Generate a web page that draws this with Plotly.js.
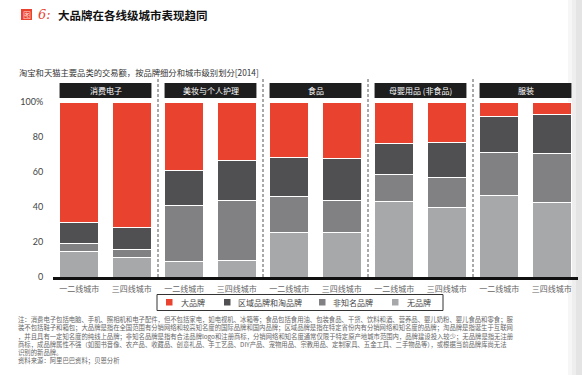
<!DOCTYPE html>
<html>
<head>
<meta charset="utf-8">
<script src="https://cdn.plot.ly/plotly-3.0.1.min.js"></script>
<style>html,body{margin:0;padding:0;background:#fff;}#chart{width:582px;height:375px;}</style>
</head>
<body>
<div id="chart"></div>
<script>
// ---- data ----
const categories = ['消费电子', '美妆与个人护理', '食品', '母婴用品 (非食品)', '服装'];
const cityTiers = ['一二线城市', '三四线城市'];
const seriesNames = ['大品牌', '区域品牌和淘品牌', '非知名品牌', '无品牌'];
const bigBrand  = [68.8, 71.8, 39.4, 33.3, 31.6, 32.2, 23.6, 22.9, 8.4, 6.9];
const regional  = [12.0, 12.4, 19.5, 22.7, 22.5, 23.8, 17.7, 20.3, 20.7, 22.8];
const unknownBr = [4.7, 4.6, 32.3, 34.7, 20.4, 18.7, 15.7, 17.2, 24.2, 27.6];
const noBrand   = [14.5, 11.2, 8.8, 9.3, 25.5, 25.3, 43.0, 39.6, 46.7, 42.7];
const yTickVals = [0, 20, 40, 60, 80, 100];
const yTickText = ['0', '20', '40', '60', '80', '100%'];
const colors = ['#E9422E', '#505053', '#818184', '#A7A8AA'];

const titleText = '大品牌在各线级城市表现趋同';
const subtitleText = '淘宝和天猫主要品类的交易额，按品牌细分和城市级别划分[2014]';
const notesLines = [
  '注：消费电子包括电脑、手机、照相机和电子配件，但不包括家电，如电视机、冰箱等；食品包括食用油、包装食品、干货、饮料和酒、营养品、婴儿奶粉、婴儿食品和零食；服',
  '装不包括鞋子和箱包；大品牌是指在全国范围有分销网络和较高知名度的国际品牌和国内品牌；区域品牌是指在特定省份内有分销网络和知名度的品牌；淘品牌是指诞生于互联网',
  '，并且具有一定知名度的纯线上品牌；非知名品牌是指有合法品牌logo和注册商标，分销网络和知名度通常仅限于特定原产地城市范围内，品牌建设投入较少；无品牌是指无注册',
  '商标，成品牌属性不强（如图书音像、农产品、收藏品、创意礼品、手工艺品、DIY产品、宠物用品、宗教用品、定制家具、五金工具、二手物品等），或根据当前品牌库尚无法',
  '识别的新品牌。'
];
const sourceText = '资料来源：阿里巴巴资料；贝恩分析';

// ---- layout helpers ----
const W = 582, H = 375;
const M = {l: 53, r: 4, t: 102, b: 98};
const PW = W - M.l - M.r, PH = H - M.t - M.b;
const px = x => (x - M.l) / PW;
const py = y => (H - M.b - y) / PH;
const CJK = '"Noto Sans CJK SC", "Noto Sans", sans-serif';

const nBars = categories.length * cityTiers.length;
const xIdx = Array.from({length: nBars}, (_, i) => i);
const xLabels = xIdx.map(i => cityTiers[i % cityTiers.length]);

const stackBottomFirst = [noBrand, unknownBr, regional, bigBrand];
const namesBottomFirst = [seriesNames[3], seriesNames[2], seriesNames[1], seriesNames[0]];
const colorsBottomFirst = [colors[3], colors[2], colors[1], colors[0]];

const traces = stackBottomFirst.map((vals, k) => ({
  type: 'bar', x: xIdx, y: vals, name: namesBottomFirst[k], width: 0.75,
  marker: {color: colorsBottomFirst[k], line: {color: '#ffffff', width: 1}},
  hoverinfo: 'skip'
}));

const shapes = [];
const annotations = [];

// right-edge light gray strip
[[568, 572, '#f6f6f6'], [572, 576, '#eeeeee'], [576, 582, '#e4e4e4']].forEach(([a, b, c]) => {
  shapes.push({type: 'rect', xref: 'paper', yref: 'paper', x0: px(a), x1: px(b), y0: py(H), y1: py(0),
    fillcolor: c, line: {width: 0}, layer: 'below'});
});

// group header boxes and dashed separators
categories.forEach((cat, g) => {
  const a = g * 2 - 0.375, b = g * 2 + 1.375;
  shapes.push({type: 'rect', xref: 'x', yref: 'paper', x0: a, x1: b, y0: py(98), y1: py(83),
    fillcolor: '#1e1e1e', line: {width: 0}});
  annotations.push({xref: 'x', yref: 'paper', x: g * 2 + 0.5, y: py(90.5), text: cat, showarrow: false,
    font: {family: CJK, size: 8, color: '#ffffff'}, xanchor: 'center', yanchor: 'middle'});
  if (g < categories.length - 1) {
    shapes.push({type: 'line', xref: 'x', yref: 'paper', x0: g * 2 + 1.5, x1: g * 2 + 1.5, y0: 0, y1: py(79),
      line: {color: '#555555', width: 1, dash: '3px,2px'}});
  }
});

// custom legend
shapes.push({type: 'rect', xref: 'paper', yref: 'paper', x0: px(157), x1: px(443), y0: py(310.5), y1: py(294.5),
  fillcolor: 'rgba(0,0,0,0)', line: {color: '#333333', width: 1}});
const legX = [[166, 179], [224, 236], [319, 331], [392, 405]];
seriesNames.forEach((nm, k) => {
  const [sx, tx] = legX[k];
  shapes.push({type: 'rect', xref: 'paper', yref: 'paper', x0: px(sx), x1: px(sx + 6.5), y0: py(305.5), y1: py(299),
    fillcolor: colors[k], line: {width: 0}});
  annotations.push({xref: 'paper', yref: 'paper', x: px(tx), y: py(302.5), text: nm, showarrow: false,
    font: {family: CJK, size: 8, color: '#444444'}, xanchor: 'left', yanchor: 'middle'});
});

// title
shapes.push({type: 'rect', xref: 'paper', yref: 'paper', x0: px(21), x1: px(32), y0: py(20), y1: py(9),
  fillcolor: '#E9422E', line: {width: 0}});
annotations.push({xref: 'paper', yref: 'paper', x: px(26.5), y: py(14.5), text: '图', showarrow: false,
  font: {family: CJK, size: 8, color: '#ffd9d0'}, xanchor: 'center', yanchor: 'middle'});
annotations.push({xref: 'paper', yref: 'paper', x: px(36), y: py(14.5), text: '<i>6:</i>', showarrow: false,
  font: {family: '"DejaVu Serif", serif', size: 13, color: '#E9422E'}, xanchor: 'left', yanchor: 'middle'});
annotations.push({xref: 'paper', yref: 'paper', x: px(56), y: py(14.5), text: '<b>' + titleText + '</b>', showarrow: false,
  font: {family: CJK, size: 11.5, color: '#111111'}, xanchor: 'left', yanchor: 'middle'});
annotations.push({xref: 'paper', yref: 'paper', x: px(17), y: py(72), text: subtitleText, showarrow: false,
  font: {family: CJK, size: 8.3, color: '#333333'}, xanchor: 'left', yanchor: 'middle'});

// notes + source as one multi-line text block
annotations.push({xref: 'paper', yref: 'paper', x: px(17), y: py(313.5),
  text: notesLines.concat([sourceText]).join('<br>'), showarrow: false, align: 'left',
  font: {family: CJK, size: 6.35, color: '#666666'}, xanchor: 'left', yanchor: 'top', borderpad: 0});

const layout = {
  width: W, height: H, margin: M,
  paper_bgcolor: '#ffffff', plot_bgcolor: '#ffffff',
  barmode: 'stack', bargap: 0.25, showlegend: false,
  xaxis: {range: [-0.5, nBars - 0.5], tickmode: 'array', tickvals: xIdx, ticktext: xLabels,
    showline: true, linecolor: '#111111', linewidth: 3, showgrid: false, zeroline: false,
    ticks: 'outside', ticklen: 2, tickcolor: 'rgba(0,0,0,0)',
    tickfont: {family: CJK, size: 8, color: '#666666'}, fixedrange: true},
  yaxis: {range: [0, 100], tickmode: 'array', tickvals: yTickVals, ticktext: yTickText,
    showline: false, showgrid: false, zeroline: false,
    ticks: 'outside', ticklen: 7, tickcolor: 'rgba(0,0,0,0)',
    tickfont: {family: 'Lato, "Noto Sans", sans-serif', size: 9, color: '#444444'}, fixedrange: true},
  shapes: shapes, annotations: annotations
};

Plotly.newPlot('chart', traces, layout, {displayModeBar: false, staticPlot: true});
</script>
</body>
</html>
